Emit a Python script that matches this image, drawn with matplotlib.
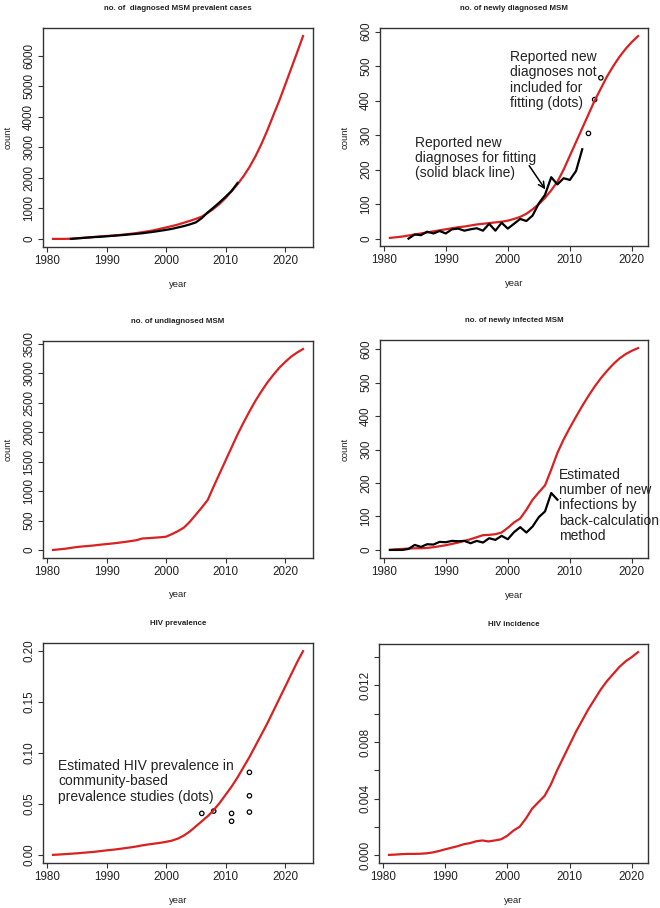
import matplotlib
matplotlib.use("Agg")
import matplotlib.pyplot as plt
import numpy as np

plt.rcParams["font.family"] = ["Liberation Sans", "DejaVu Sans"]

# ---- data ----
years_diag = np.arange(1981, 2024)
diag_prev_model = [0, 0, 0, 5, 20, 35, 50, 65, 80, 95, 110, 125, 145, 165, 190, 220, 250, 285, 330, 375,
                   420, 470, 530, 590, 655, 730, 850, 990, 1150, 1340, 1560, 1790, 2050, 2350, 2700, 3100,
                   3550, 4040, 4520, 5040, 5570, 6100, 6640]
years_obs_prev = np.arange(1984, 2013)
diag_prev_obs = [0, 15, 30, 45, 60, 70, 85, 100, 115, 130, 150, 165, 185, 210, 235, 265, 295, 330, 375,
                 420, 475, 540, 680, 870, 1030, 1200, 1380, 1570, 1830]

years_new = np.arange(1981, 2022)
new_diag_model = [2, 4, 6, 9, 12, 15, 18, 21, 24, 27, 30, 33, 35, 38, 41, 43, 45, 47, 49, 52, 57, 63, 72,
                  85, 100, 118, 140, 165, 200, 240, 280, 320, 360, 400, 435, 470, 500, 527, 550, 570, 587]
years_new_obs = np.arange(1984, 2013)
new_diag_obs = [0, 12, 10, 20, 15, 22, 15, 27, 29, 23, 27, 30, 23, 43, 23, 46, 29, 43, 57, 51, 67, 102,
                127, 178, 157, 175, 170, 196, 259]
years_new_dots = [2013, 2014, 2015]
new_diag_dots = [305, 403, 466]

undiag_model = [0, 10, 20, 35, 50, 60, 68, 78, 90, 100, 110, 122, 135, 150, 165, 195, 200, 208, 215, 225,
                270, 320, 380, 480, 600, 720, 850, 1080, 1300, 1520, 1740, 1960, 2160, 2350, 2530, 2690,
                2840, 2970, 3090, 3190, 3280, 3350, 3410]

new_inf_model = [0, 2, 3, 4, 5, 5, 6, 8, 11, 14, 18, 22, 27, 32, 38, 44, 45, 47, 52, 66, 82, 94, 120,
                 150, 172, 193, 240, 290, 330, 365, 398, 430, 460, 488, 513, 535, 555, 572, 585, 595, 603]
years_backcalc = np.arange(1981, 2009)
new_inf_backcalc = [0, 0, 0, 3, 15, 9, 17, 16, 24, 23, 27, 26, 27, 20, 27, 22, 35, 30, 42, 32, 53, 68,
                    52, 70, 98, 115, 170, 150]

prev_model = [0.0, 0.0003, 0.0007, 0.0011, 0.0015, 0.002, 0.0025, 0.003, 0.0037, 0.0044, 0.005, 0.0057,
              0.0065, 0.0073, 0.0082, 0.0093, 0.0102, 0.011, 0.0118, 0.0128, 0.014, 0.016, 0.019, 0.023,
              0.028, 0.033, 0.038, 0.044, 0.051, 0.059, 0.067, 0.076, 0.086, 0.096, 0.107, 0.118, 0.129,
              0.141, 0.153, 0.165, 0.177, 0.189, 0.2]
prev_study_years = [2006, 2008, 2011, 2011, 2014, 2014, 2014]
prev_study_vals = [0.0407, 0.043, 0.0407, 0.033, 0.081, 0.058, 0.042]

inc_model = [0.00003, 0.00005, 0.00008, 0.0001, 0.0001, 0.00011, 0.00014, 0.0002, 0.0003, 0.00042,
             0.00053, 0.00064, 0.00078, 0.00086, 0.00099, 0.00105, 0.00098, 0.00105, 0.00113, 0.00138,
             0.00175, 0.00202, 0.0026, 0.0033, 0.00375, 0.0042, 0.005, 0.006, 0.0069, 0.0078, 0.0087,
             0.0095, 0.0103, 0.011, 0.0117, 0.0123, 0.0128, 0.0133, 0.0137, 0.0140, 0.01435]

RED = "#d92121"
TXT = "#222222"
W, H = 660, 908

fig = plt.figure(figsize=(W / 100, H / 100), dpi=100)


def make_ax(x0, y0, x1, y1):
    # pixel box (top-left origin) -> figure fraction
    return fig.add_axes([x0 / W, 1 - y1 / H, (x1 - x0) / W, (y1 - y0) / H])


def r_style(ax, x, y, title, yticks, ylabels=None, ylabel="count"):
    # R-like 4% padding on both axes
    pad = (max(y) - min(y)) * 0.04
    ax.set_ylim(min(y) - pad, max(y) + pad)
    xpad = (x[-1] - x[0]) * 0.04
    ax.set_xlim(x[0] - xpad, x[-1] + xpad)
    ax.set_xticks([1980, 1990, 2000, 2010, 2020])
    ax.set_yticks(yticks)
    if ylabels is not None:
        ax.set_yticklabels(ylabels)
    ax.tick_params(length=3.6, width=0.8, color="#333333", labelsize=8.4, pad=2, labelcolor=TXT)
    for lab in ax.get_yticklabels():
        lab.set_rotation(90)
        lab.set_va("center")
    for s in ax.spines.values():
        s.set_linewidth(1.0)
        s.set_color("#333333")
    ax.set_title(title, fontsize=5.7, fontweight="bold", pad=13, color=TXT)
    ax.set_xlabel("year", fontsize=6.8, color=TXT)
    ax.xaxis.set_label_coords(0.5, -0.17)
    ax.xaxis.label.set_va("center")
    if ylabel:
        ax.set_ylabel(ylabel, fontsize=6.8, color=TXT)
        ax.yaxis.set_label_coords(-0.13, 0.5)
        ax.yaxis.label.set_va("center")


def note(ax, x, y, s):
    ax.text(x, y, s, fontsize=10, va="top", ha="left", linespacing=1.12, color=TXT)


# panel 1
ax = make_ax(43, 28, 313, 247)
ax.plot(years_diag, diag_prev_model, color=RED, lw=1.6)
ax.plot(years_obs_prev, diag_prev_obs, color="black", lw=1.6)
r_style(ax, years_diag, diag_prev_model, "no. of  diagnosed MSM prevalent cases",
        [0, 1000, 2000, 3000, 4000, 5000, 6000])

# panel 2
ax = make_ax(380, 28, 648, 246)
ax.plot(years_new, new_diag_model, color=RED, lw=1.6)
ax.plot(years_new_obs, new_diag_obs, color="black", lw=1.6)
ax.scatter(years_new_dots, new_diag_dots, s=10, facecolors="none", edgecolors="black", linewidths=0.9)
r_style(ax, years_new, new_diag_model, "no. of newly diagnosed MSM", [0, 100, 200, 300, 400, 500, 600])
ax.annotate("", xy=(2006.3, 136), xytext=(2003.2, 218),
            arrowprops=dict(arrowstyle="->", color="black", lw=1.1, mutation_scale=11))
note(ax, 1985.0, 298, "Reported new\ndiagnoses for fitting\n(solid black line)")
note(ax, 2000.3, 547, "Reported new\ndiagnoses not\nincluded for\nfitting (dots)")

# panel 3
ax = make_ax(43, 341, 313, 558)
ax.plot(years_diag, undiag_model, color=RED, lw=1.6)
r_style(ax, years_diag, undiag_model, "no. of undiagnosed MSM",
        [0, 500, 1000, 1500, 2000, 2500, 3000, 3500])

# panel 4
ax = make_ax(380, 340, 648, 558)
ax.plot(years_new, new_inf_model, color=RED, lw=1.6)
ax.plot(years_backcalc, new_inf_backcalc, color="black", lw=1.6)
r_style(ax, years_new, new_inf_model, "no. of newly infected MSM", [0, 100, 200, 300, 400, 500, 600])
note(ax, 2008.3, 246, "Estimated\nnumber of new\ninfections by\nback-calculation\nmethod")

# panel 5
ax = make_ax(43, 643, 313, 863)
ax.plot(years_diag, prev_model, color=RED, lw=1.6)
ax.scatter(prev_study_years, prev_study_vals, s=10, facecolors="none", edgecolors="black", linewidths=0.9)
r_style(ax, years_diag, prev_model, "HIV prevalence", [0, 0.05, 0.1, 0.15, 0.2],
        ["0.00", "0.05", "0.10", "0.15", "0.20"], ylabel="")
note(ax, 1981.9, 0.094, "Estimated HIV prevalence in\ncommunity-based\nprevalence studies (dots)")

# panel 6
ax = make_ax(379, 644, 648, 863)
ax.plot(years_new, inc_model, color=RED, lw=1.6)
r_style(ax, years_new, inc_model, "HIV incidence", [0, 0.002, 0.004, 0.006, 0.008, 0.01, 0.012, 0.014],
        ["0.000", "", "0.004", "", "0.008", "", "0.012", ""], ylabel="")

fig.savefig("out.png", dpi=100)
